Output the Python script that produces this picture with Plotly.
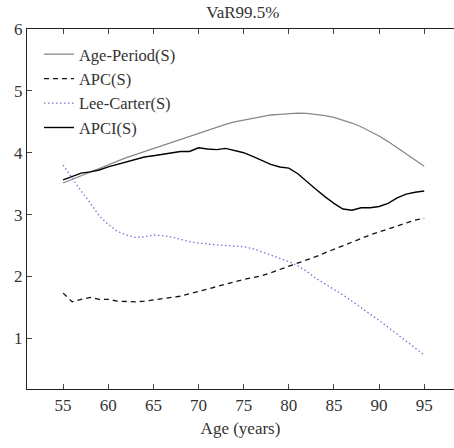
import plotly.graph_objects as go

ages = list(range(55, 96))

age_period = [3.51, 3.57, 3.63, 3.69, 3.75, 3.81, 3.86, 3.92, 3.97, 4.02,
              4.07, 4.12, 4.17, 4.22, 4.27, 4.32, 4.37, 4.41, 4.46, 4.50,
              4.53, 4.56, 4.59, 4.61, 4.62, 4.635, 4.64, 4.635, 4.62, 4.60,
              4.57, 4.53, 4.48, 4.42, 4.35, 4.27, 4.18, 4.08, 3.98, 3.88, 3.78]

apc = [1.73, 1.59, 1.63, 1.66, 1.63, 1.63, 1.60, 1.59, 1.59, 1.60,
       1.62, 1.65, 1.66, 1.68, 1.72, 1.76, 1.79, 1.83, 1.87, 1.91,
       1.95, 1.98, 2.01, 2.06, 2.11, 2.16, 2.21, 2.26, 2.32, 2.38,
       2.44, 2.50, 2.56, 2.62, 2.67, 2.72, 2.77, 2.81, 2.86, 2.91, 2.94]

lee_carter = [3.80, 3.58, 3.38, 3.19, 2.98, 2.84, 2.73, 2.67, 2.63, 2.64,
              2.67, 2.66, 2.64, 2.60, 2.56, 2.54, 2.52, 2.51, 2.50, 2.49,
              2.48, 2.45, 2.40, 2.35, 2.30, 2.24, 2.17, 2.08, 1.97, 1.88,
              1.80, 1.70, 1.60, 1.49, 1.39, 1.29, 1.18, 1.06, 0.95, 0.84, 0.73]

apci = [3.56, 3.61, 3.67, 3.69, 3.72, 3.77, 3.81, 3.86, 3.90, 3.93,
        3.95, 3.97, 4.00, 4.02, 4.02, 4.08, 4.06, 4.05, 4.07, 4.04,
        4.00, 3.94, 3.87, 3.81, 3.77, 3.75, 3.66, 3.53, 3.41, 3.29,
        3.18, 3.09, 3.07, 3.11, 3.11, 3.13, 3.18, 3.27, 3.33, 3.36, 3.38]

x_ticks = [55, 60, 65, 70, 75, 80, 85, 90, 95]
y_ticks = [1, 2, 3, 4, 5, 6]

FONT = "Liberation Serif, Times New Roman, serif"
FS = 17

fig = go.Figure()
fig.add_trace(go.Scatter(x=ages, y=age_period, mode="lines", name="Age-Period(S)",
                         line=dict(color="#888888", width=1.3)))
fig.add_trace(go.Scatter(x=ages, y=apc, mode="lines", name="APC(S)",
                         line=dict(color="#111111", width=1.3, dash="5px,4px")))
fig.add_trace(go.Scatter(x=ages, y=lee_carter, mode="lines", name="Lee-Carter(S)",
                         line=dict(color="#6f78d6", width=1.3, dash="1.5px,2.5px")))
fig.add_trace(go.Scatter(x=ages, y=apci, mode="lines", name="APCI(S)",
                         line=dict(color="#000000", width=1.4)))

fig.update_layout(
    width=454, height=448,
    margin=dict(l=27, r=0, t=29, b=59, autoexpand=False),
    paper_bgcolor="white", plot_bgcolor="white",
    font=dict(family=FONT, size=FS, color="#333333"),
    title=dict(text="VaR99.5%", x=0.535, xanchor="center", y=0.973, yanchor="middle",
               font=dict(family=FONT, size=FS)),
    showlegend=True,
    legend=dict(x=0.028, y=0.978, xanchor="left", yanchor="top",
                bgcolor="rgba(0,0,0,0)", borderwidth=0,
                font=dict(family=FONT, size=16.5)),
    xaxis=dict(range=[51.0, 98.3], tickvals=x_ticks, ticks="inside", ticklen=5,
               showline=True, linecolor="#222222", linewidth=1.2, mirror="ticks",
               showgrid=False, zeroline=False, automargin=False,
               title=dict(text="Age (years)", standoff=8, font=dict(family=FONT, size=FS))),
    yaxis=dict(range=[0.18, 6.0], tickvals=y_ticks, ticks="inside", ticklen=5,
               showline=True, linecolor="#222222", linewidth=1.2,
               showgrid=False, zeroline=False, automargin=False),
)

fig.write_html("out.html", config={"displayModeBar": False},
               post_script="document.body.style.margin='0';document.body.style.overflow='hidden';")
